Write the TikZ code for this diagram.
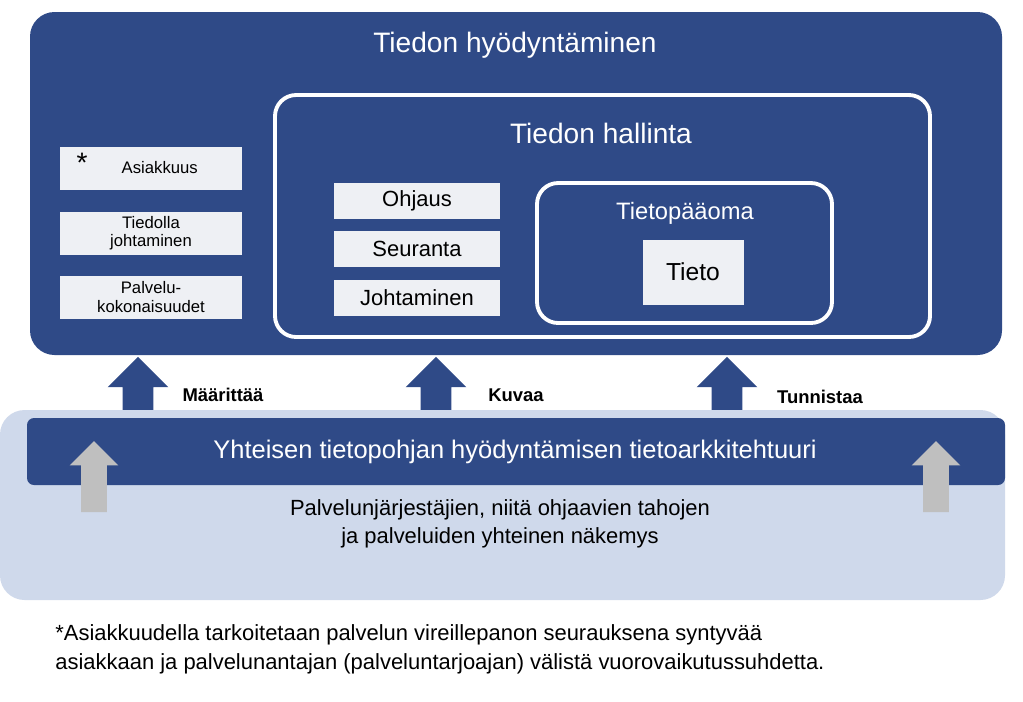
\documentclass[tikz,border=0pt]{standalone}
\usepackage{fontspec}
\setmainfont{Liberation Sans}
\usetikzlibrary{positioning,shapes.arrows}
\definecolor{darkblue}{HTML}{2F4A87}
\definecolor{paleblue}{HTML}{CFD9EB}
\definecolor{boxgray}{HTML}{EEF0F4}
\definecolor{arrgray}{HTML}{BFBFBF}

\begin{document}
\begin{tikzpicture}[x=0.02cm, y=-0.02cm,
panel/.style={rectangle, rounded corners=14pt, fill=darkblue, draw=none},
frame/.style={rectangle, rounded corners=12pt, draw=white, line width=2.2pt},
smallbox/.style={rectangle, fill=boxgray, minimum width=3.64cm, minimum height=0.86cm, font=\fontsize{9.5}{10.5}\selectfont, align=center, inner sep=0pt},
midbox/.style={rectangle, fill=boxgray, minimum width=3.34cm, minimum height=0.72cm, font=\fontsize{12.5}{14}\selectfont, inner sep=0pt},
uparrow/.style={single arrow, fill=darkblue, shape border rotate=90, inner sep=0.3cm, single arrow head extend=0.3cm, minimum height=1.06cm, single arrow head indent=0pt},
grayarrow/.style={single arrow, fill=arrgray, shape border rotate=90, inner sep=0.25cm, single arrow head extend=0.23cm, minimum height=1.42cm, single arrow head indent=0pt},
label/.style={font=\bfseries\fontsize{10.5}{12}\selectfont},
]
\useasboundingbox (0,0) rectangle (1023,701);
%Backgrounds
\fill[paleblue, rounded corners=14pt] (0,410) rectangle (1005,600);
\fill[panel] (30,12) rectangle (1002,355);
\draw[frame] (275,95) rectangle (930,337);
\draw[frame] (537,183) rectangle (832,323);
\fill[darkblue, rounded corners=4pt] (27,418) rectangle (1005,485);

%Titles
\node[text=white, font=\fontsize{16}{18}\selectfont] (use) at (515,45) {Tiedon hyödyntäminen};
\node[text=white, font=\fontsize{16}{18}\selectfont] (mgmt) at (601,133) {Tiedon hallinta};
\node[text=white, font=\fontsize{13.5}{15}\selectfont] (capital) at (685,213) {Tietopääoma};
\node[rectangle, fill=boxgray, minimum width=2.02cm, minimum height=1.3cm, font=\fontsize{14}{16}\selectfont] (data) at (693,272) {Tieto};

%Left boxes
\node[smallbox] (customer) at (151,168) {\hspace*{0.35cm}Asiakkuus};
\node[font=\fontsize{16}{16}\selectfont] (star) at (82,163) {*};
\node[smallbox] (leading) at (151,233) {Tiedolla\\johtaminen};
\node[smallbox] (services) at (151,297) {Palvelu-\\kokonaisuudet};

%Middle boxes
\node[midbox] (steer) at (417,201) {Ohjaus};
\node[midbox] (follow) at (417,249) {Seuranta};
\node[midbox] (lead) at (417,298) {Johtaminen};

%Bar
\node[text=white, font=\fontsize{14.5}{16}\selectfont] (arch) at (515,452) {Yhteisen tietopohjan hyödyntämisen tietoarkkitehtuuri};
\node[font=\fontsize{12.5}{16}\selectfont, align=center] (vision) at (500,524) {Palvelunjärjestäjien, niitä ohjaavien tahojen\\ja palveluiden yhteinen näkemys};

%Arrows
\node[grayarrow] (gl) at (94,483) {};
\node[grayarrow] (gr) at (936,483) {};
\node[uparrow] (a1) at (138,391) {};
\node[uparrow] (a2) at (436,391) {};
\node[uparrow] (a3) at (727,391) {};
\node[label] (l1) at (223,395) {Määrittää};
\node[label] (l2) at (516,395) {Kuvaa};
\node[label] (l3) at (820,397) {Tunnistaa};

%Footnote
\node[anchor=north west, align=left, font=\fontsize{12.5}{16.5}\selectfont, inner sep=0pt] (note) at (55,624) {*Asiakkuudella tarkoitetaan palvelun vireillepanon seurauksena syntyvää\\asiakkaan ja palvelunantajan (palveluntarjoajan) välistä vuorovaikutussuhdetta.};
\end{tikzpicture}
\end{document}
